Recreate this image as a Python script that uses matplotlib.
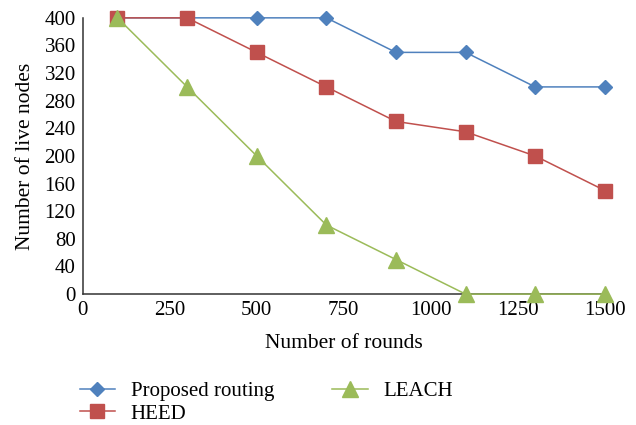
import numpy as np
import matplotlib
matplotlib.use("Agg")
import matplotlib.pyplot as plt

# values
rounds = [100, 300, 500, 700, 900, 1100, 1300, 1500]
proposed = [400, 400, 400, 400, 350, 350, 300, 300]
heed = [400, 400, 350, 300, 250, 235, 200, 150]
leach = [400, 300, 200, 100, 50, 0, 0, 0]

x_ticks = [0, 250, 500, 750, 1000, 1250, 1500]
y_ticks = list(range(0, 401, 40))

plt.rcParams['font.family'] = ['Liberation Serif', 'DejaVu Serif']

fig = plt.figure(figsize=(6.36, 4.25), dpi=100)
ax = fig.add_axes([0.130, 0.308, 0.821, 0.650])

ax.plot(rounds, proposed, color='#4F81BD', marker='D', markersize=7,
        linewidth=1.1, label='Proposed routing', clip_on=False, zorder=3)
ax.plot(rounds, heed, color='#C0504D', marker='s', markersize=10,
        linewidth=1.1, label='HEED', clip_on=False, zorder=3)
ax.plot(rounds, leach, color='#9BBB59', marker='^', markersize=11,
        linewidth=1.1, label='LEACH', clip_on=False, zorder=4)

ax.set_xlim(0, 1500)
ax.set_ylim(0, 400)
ax.set_xticks(x_ticks)
ax.set_yticks(y_ticks)
ax.tick_params(length=0, labelsize=15, pad=5)
ax.spines['top'].set_visible(False)
ax.spines['right'].set_visible(False)
for s in ('left', 'bottom'):
    ax.spines[s].set_linewidth(1.1)
    ax.spines[s].set_color('#333333')

ax.set_xlabel('Number of rounds', fontsize=15.5, labelpad=10)
ax.set_ylabel('Number of live nodes', fontsize=15.5, labelpad=7)

fig.legend(loc='upper left', bbox_to_anchor=(0.125, 0.103), ncol=2,
           frameon=False, fontsize=15, handlelength=1.7, columnspacing=2.8,
           labelspacing=0.15, handletextpad=0.75, borderpad=0, borderaxespad=0)

fig.savefig('out.png', dpi=100)
